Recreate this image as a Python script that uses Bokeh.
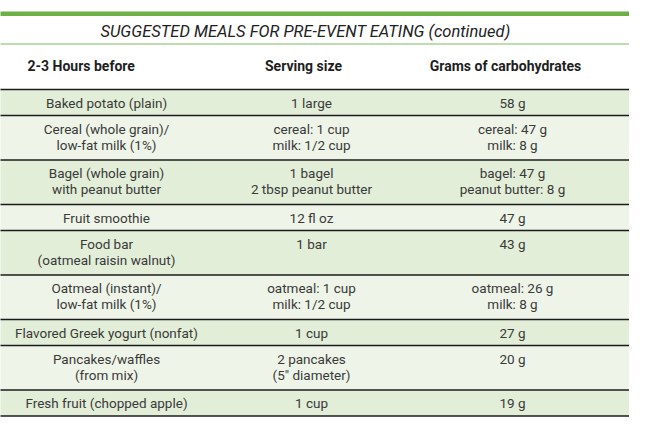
from bokeh.plotting import figure
from bokeh.models import Range1d, ColumnDataSource
from bokeh.core.properties import value
from bokeh.embed import file_html
from bokeh.resources import INLINE

# ---- data ----
title = "SUGGESTED MEALS FOR PRE-EVENT EATING (continued)"
headers = ["2-3 Hours before", "Serving size", "Grams of carbohydrates"]
foods = [
    ["Baked potato (plain)"],
    ["Cereal (whole grain)/", "low-fat milk (1%)"],
    ["Bagel (whole grain)", "with peanut butter"],
    ["Fruit smoothie"],
    ["Food bar", "(oatmeal raisin walnut)"],
    ["Oatmeal (instant)/", "low-fat milk (1%)"],
    ["Flavored Greek yogurt (nonfat)"],
    ["Pancakes/waffles", "(from mix)"],
    ["Fresh fruit (chopped apple)"],
]
servings = [
    ["1 large"],
    ["cereal: 1 cup", "milk: 1/2 cup"],
    ["1 bagel", "2 tbsp peanut butter"],
    ["12 fl oz"],
    ["1 bar"],
    ["oatmeal: 1 cup", "milk: 1/2 cup"],
    ["1 cup"],
    ["2 pancakes", "(5\u2033 diameter)"],
    ["1 cup"],
]
carbs = [
    ["58 g"],
    ["cereal: 47 g", "milk: 8 g"],
    ["bagel: 47 g", "peanut butter: 8 g"],
    ["47 g"],
    ["43 g"],
    ["oatmeal: 26 g", "milk: 8 g"],
    ["27 g"],
    ["20 g"],
    ["19 g"],
]

# ---- layout (reference pixel space) ----
LEFT, RIGHT = 4, 642
TABLE_TOP = 93
SINGLE_H, DOUBLE_H = 26, 44.5
COL_X = [112, 317, 518]
HEADER_X = [33, 309, 511]
HEADER_ALIGN = ["left", "center", "center"]
FIRST_LINE = 13
LINE_GAP = 16
BAND_COLORS = ["#e2eed8", "#eef5e8"]

p = figure(width=629, height=417, x_range=Range1d(6, 635), y_range=Range1d(421, 4),
           output_backend="svg", toolbar_location=None,
           x_axis_location=None, y_axis_location=None, min_border=0)
p.outline_line_color = None
p.xgrid.visible = False
p.ygrid.visible = False
p.background_fill_color = "white"
p.border_fill_color = "white"

# row extents
tops, bottoms = [], []
y = TABLE_TOP
for i in range(len(foods)):
    n = max(len(foods[i]), len(servings[i]), len(carbs[i]))
    h = SINGLE_H if n == 1 else DOUBLE_H
    tops.append(y)
    bottoms.append(y + h)
    y += h

p.quad(left=[LEFT] * len(tops), right=[RIGHT] * len(tops), top=tops, bottom=bottoms,
       fill_color=[BAND_COLORS[i % 2] for i in range(len(tops))], line_color=None)

# separators
seps = [TABLE_TOP] + bottoms
p.segment(x0=[LEFT] * len(seps), x1=[RIGHT] * len(seps), y0=seps, y1=seps,
          line_color="#1c1c1c", line_width=1.4)

# top green bar and title rule
p.quad(left=[LEFT], right=[RIGHT], top=[15], bottom=[19.5], fill_color="#6cb045", line_color=None)
p.segment(x0=[LEFT], x1=[RIGHT], y0=[47.5], y1=[47.5], line_color="#7db961", line_width=1.2)

# title
p.text(x=[311], y=[35], text=[title], text_font=value("Roboto"), text_font_style="italic",
       text_font_size="16.5px", text_color="#222222", text_align="center", text_baseline="middle")

# headers
for hx, ht, ha in zip(HEADER_X, headers, HEADER_ALIGN):
    p.text(x=[hx], y=[69.5], text=[ht], text_font=value("Roboto"), text_font_style="bold",
           text_font_size="14px", text_color="#1e1e1e", text_align=ha, text_baseline="middle")

# body text
xs, ys, ts = [], [], []
for i, top in enumerate(tops):
    for col, cell in enumerate([foods[i], servings[i], carbs[i]]):
        for j, line in enumerate(cell):
            xs.append(COL_X[col])
            ys.append(top + FIRST_LINE + LINE_GAP * j)
            ts.append(line)
src = ColumnDataSource(dict(x=xs, y=ys, t=ts))
p.text(x="x", y="y", text="t", source=src, text_font=value("Roboto"), text_font_size="13.5px",
       text_color="#3a3a3a", text_align="center", text_baseline="middle")

open("out.html", "w").write(file_html(p, INLINE))
